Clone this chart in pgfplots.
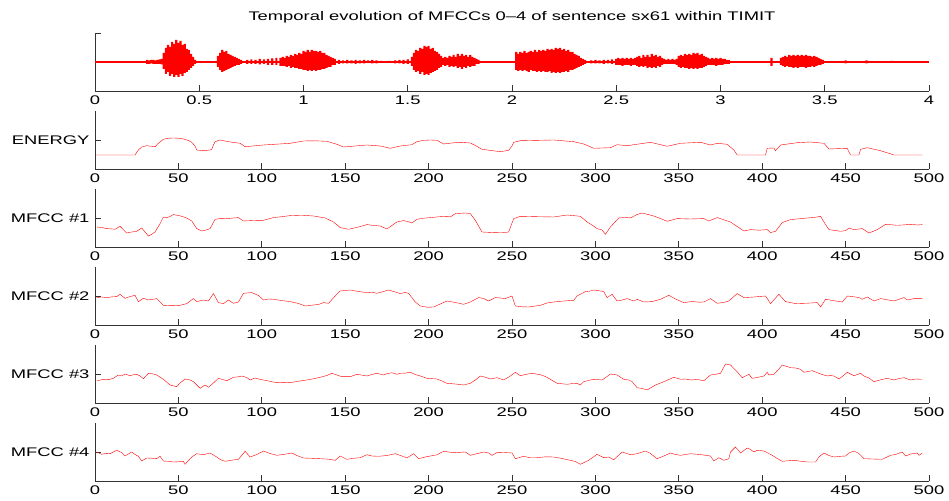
\documentclass[border=0pt]{standalone}
\usepackage{fontspec}
\setmainfont{Liberation Sans}[FakeStretch=1.47]
\usepackage{pgfplots}
\pgfplotsset{compat=1.18}
\usepackage{pgfplotstable}

\pgfplotstableread{
t up lo
0.25 2 -2
0.26 1.5 -2
0.27 2 -1.5
0.28 2 -2
0.29 1.5 -2
0.30 2 -2
0.31 2.5 -2
0.32 3 -2.5
0.33 9 -7
0.34 14 -12
0.35 17 -10
0.36 15 -14
0.37 20 -12
0.38 18 -15
0.39 22 -13
0.40 19 -15
0.41 21 -12
0.42 17 -14
0.43 18 -11
0.44 13 -10
0.45 12 -8
0.46 8 -6
0.47 5 -4
0.48 2 -2
0.59 6 -5
0.60 9 -8
0.61 12 -10
0.62 10 -9
0.63 11 -8
0.64 8 -7
0.65 7 -6
0.66 6 -5
0.67 5 -4
0.68 4 -3
0.69 3 -3
0.70 2 -2
0.73 2 -2
0.75 2.5 -2
0.77 2 -2
0.79 3 -2.5
0.81 2.5 -2
0.83 3 -3
0.85 3.5 -3
0.87 4 -3
0.89 4 -4
0.90 5 -4
0.91 4 -4
0.92 6 -5
0.93 5 -4
0.94 7 -6
0.95 6 -5
0.96 8 -6
0.97 7 -6
0.98 9 -7
0.99 8 -7
1.00 11 -8
1.01 10 -8
1.02 12 -9
1.03 10 -8
1.04 12 -9
1.05 11 -8
1.06 11 -9
1.07 10 -8
1.08 11 -8
1.09 9 -7
1.10 9 -7
1.11 7 -6
1.12 6 -5
1.13 5 -5
1.14 4 -3
1.15 3 -3
1.17 2 -2
1.19 1.5 -1.5
1.21 2 -1.5
1.23 1.5 -1.5
1.25 2 -2
1.27 1.5 -1.5
1.29 2 -1.5
1.31 1.5 -1
1.33 2 -1.5
1.35 1.5 -1.5
1.37 1 -1
1.41 1 -1
1.44 1.5 -1.5
1.46 2 -1.5
1.48 2 -2
1.50 2.5 -2
1.52 5 -4
1.53 9 -8
1.54 12 -10
1.55 11 -9
1.56 14 -12
1.57 13 -10
1.58 16 -13
1.59 15 -12
1.60 16 -13
1.61 13 -11
1.62 14 -10
1.63 11 -9
1.64 10 -8
1.65 8 -6
1.66 6 -5
1.67 4 -3
1.68 5 -4
1.69 4 -3
1.70 6 -5
1.71 5 -4
1.72 7 -5
1.73 5 -4
1.74 8 -6
1.75 6 -5
1.76 8 -7
1.77 6 -5
1.78 7 -6
1.79 5 -4
1.80 7 -5
1.81 5 -4
1.82 4 -4
1.83 3 -2
1.84 2 -2
2.02 10 -8
2.03 8 -9
2.04 10 -8
2.05 9 -9
2.06 11 -8
2.07 9 -9
2.08 10 -10
2.09 11 -8
2.10 10 -9
2.11 12 -9
2.12 10 -10
2.13 12 -9
2.14 11 -10
2.15 12 -9
2.16 11 -10
2.17 13 -10
2.18 12 -9
2.19 13 -11
2.20 12 -10
2.21 14 -11
2.22 13 -10
2.23 14 -11
2.24 12 -10
2.25 13 -10
2.26 11 -9
2.27 12 -10
2.28 10 -8
2.29 10 -8
2.30 8 -7
2.31 7 -6
2.32 6 -5
2.33 4 -4
2.34 3 -3
2.35 2 -2
2.38 1.5 -1.5
2.40 2 -1.5
2.42 1.5 -1.5
2.44 2 -2
2.46 2 -1.5
2.48 2.5 -2
2.50 3 -3
2.51 4 -3
2.52 3 -3
2.53 4 -4
2.54 3 -3
2.55 4 -3
2.56 3 -3
2.57 4 -4
2.58 3 -3
2.59 4 -3
2.60 5 -4
2.61 6 -5
2.62 4 -4
2.63 7 -5
2.64 5 -4
2.65 7 -6
2.66 5 -5
2.67 8 -6
2.68 6 -5
2.69 7 -6
2.70 5 -4
2.71 6 -5
2.72 4 -3
2.73 3 -2
2.74 2 -2
2.75 3 -2
2.76 2 -2
2.77 3 -2
2.78 2 -2
2.79 3 -3
2.80 6 -5
2.81 7 -6
2.82 6 -5
2.83 8 -6
2.84 7 -6
2.85 8 -7
2.86 7 -6
2.87 9 -7
2.88 8 -6
2.89 9 -7
2.90 7 -6
2.91 8 -6
2.92 6 -5
2.93 5 -4
2.94 4 -3
2.95 3 -3
2.96 4 -3
2.97 3 -3
2.98 4 -4
2.99 3 -3
3.00 4 -3
3.01 3 -3
3.02 3 -2
3.03 2 -2
3.04 2 -2
3.245 4 -4
3.29 4 -3
3.30 5 -4
3.31 6 -5
3.32 5 -4
3.33 7 -5
3.34 6 -5
3.35 7 -6
3.36 6 -5
3.37 7 -6
3.38 6 -5
3.39 7 -5
3.40 6 -5
3.41 7 -6
3.42 6 -5
3.43 6 -5
3.44 5 -4
3.45 6 -5
3.46 5 -4
3.47 4 -3
3.48 3 -3
3.49 2 -2
3.60 1.5 -1.5
3.70 1.5 -1.5
3.82 1 -1
}\wave

\pgfplotsset{
  panel/.style={
    scale only axis, width=834pt, height=58pt, anchor=south west,
    axis x line*=bottom, axis y line*=left,
    tick align=inside, major tick length=6pt,
    xmin=0, xmax=500, xtick={0,50,...,500},
    ymin=-29, ymax=29, ytick={0},
    axis line style={line width=0.8pt, black!80},
    every tick/.style={line width=0.8pt, black!80},
    tick label style={font=\fontsize{12.5}{14}\selectfont},
    xticklabel style={yshift=-1pt},
    yticklabel style={xshift=-2pt},
    /pgf/number format/assume math mode=true,
    cycle list={{red, line width=1.2pt}},
    no markers,
  }
}

\begin{document}
\begin{tikzpicture}
\useasboundingbox (0,0) rectangle (949pt,500pt);

% waveform
\begin{axis}[panel, at={(95pt,409pt)}, xmin=0, xmax=4,
  xtick={0,0.5,1,1.5,2,2.5,3,3.5,4},
  xticklabels={0,0.5,1,1.5,2,2.5,3,3.5,4},
  ytick={-29,29}, yticklabels={,},
  title={Temporal evolution of MFCCs 0--4 of sentence sx61 within TIMIT},
  title style={font=\fontsize{12.5}{14}\selectfont, at={(0.5,1)}, anchor=south, yshift=0pt}]
\addplot[red, line width=1.6pt] coordinates {(0,0) (4,0)};
\addplot[ybar, bar width=2.2pt, bar shift=0pt, fill=red, draw=none] table[x=t, y=up] {\wave};
\addplot[ybar, bar width=2.2pt, bar shift=0pt, fill=red, draw=none] table[x=t, y=lo] {\wave};
\end{axis}

% ENERGY
\begin{axis}[panel, at={(95pt,331pt)}, yticklabels={ENERGY}]
\addplot coordinates {(0,-15)(24,-15)(26,-10)(28,-7)(31,-5.7)(36,-6.7)(38,-3.3)(41,0.7)(44,1.8)(47,2)(50,1.8)(53,1)(56,-0.5)(58,-2.3)(60,-6)(61,-10)(65,-10.7)(69,-10)(70,-9.3)(71,-5)(72,-1.7)(75,0)(81,-2)(87,-3.3)(90,-6.7)(101,-5)(117,-3.3)(125,-1)(132,-0.8)(139,-1.3)(145,-4.3)(149,-7)(163,-5)(171,-6)(177,-8.3)(183,-6)(190,-4.7)(193,-1.7)(197,-0.3)(201,0)(205,-0.3)(209,-4)(214,-3)(219,-2.3)(225,-3)(228,-5.5)(232,-9.3)(243,-11.7)(248,-10.3)(250,-6)(251,-2.3)(255,-0.7)(275,0)(287,-1.7)(293,-4)(299,-8.3)(309,-7.7)(313,-4.7)(319,-5.7)(333,-2.3)(343,-6.3)(351,-3.3)(363,-2.3)(369,-5)(373,-3.3)(379,-4.3)(383,-10)(385,-15)(402,-15)(403,-8.3)(407,-8)(408,-10.7)(411,-5)(421,-2.7)(429,-2)(437,-3.3)(440,-9)(451,-8.3)(452,-12)(453,-15)(458,-15)(459,-9.3)(463,-7.7)(471,-10.7)(479,-15)(496,-15)};
\end{axis}

% MFCC 1
\begin{axis}[panel, at={(95pt,253pt)}, yticklabels={MFCC \#1}]
\addplot coordinates {(1,-9)(4,-9.5)(7,-10.6)(10,-10.9)(12,-11.3)(15,-8.3)(19,-15)(22,-14)(25,-13.3)(28,-10)(32,-18)(34,-16.3)(36,-14)(39,-5.6)(41,1)(43,0.3)(45,1.5)(47,3.4)(50,2.5)(52,1.7)(55,0)(58,-3)(61,-10.6)(64,-13)(67,-11.8)(69,-10.6)(72,-1.3)(76,-0.3)(79,-0.6)(83,0)(86,0.4)(89,-3)(95,-2.5)(101,-2.3)(107,0.4)(112,1.3)(117,2.4)(124,2.8)(131,2)(138,0)(143,-4)(147,-9.6)(152,-11.3)(158,-9)(163,-6.6)(167,-7.4)(171,-8)(175,-11)(178,-7.5)(181,-4)(185,-2.6)(188,-3.8)(190,-5)(193,-1.3)(197,-0.2)(201,0.4)(206,1.2)(211,1.7)(213,1.1)(216,4.4)(222,5)(225,4.4)(228,-2.3)(232,-14)(239,-14.6)(244,-14.8)(248,-14)(251,-0.6)(255,1.7)(265,1.3)(275,1)(283,3)(291,1.7)(295,-4)(298,-7)(301,-10.6)(304,-12)(306,-16.3)(309,-9)(314,0)(318,0.6)(321,0)(325,3.5)(328,5)(335,2)(339,-0.5)(343,-3.3)(349,-0.6)(357,-1)(365,-0.6)(368,-3)(373,0.4)(377,-1.8)(381,-4)(385,-8.5)(389,-13)(393,-11.6)(398,-12.2)(403,-11.6)(405,-14.6)(408,-13.3)(412,-4.6)(417,-1.6)(422,-0.8)(427,0)(431,0.5)(435,1.7)(437,-4)(440,-11.6)(447,-13.3)(450,-12.6)(452,-10)(455,-11.6)(460,-10.6)(464,-15)(469,-11.6)(474,-6.3)(481,-7.3)(485,-6.9)(489,-6.3)(493,-7)(496,-6.6)};
\end{axis}

% MFCC 2
\begin{axis}[panel, at={(95pt,175pt)}, yticklabels={MFCC \#2}]
\addplot coordinates {(1,-1.6)(4,-1)(7,-1.6)(10,-0.9)(13,-0.6)(15,1.7)(18,-2.3)(21,-0.6)(24,0.7)(26,-5.6)(29,-2.3)(32,-4)(35,-3.2)(37,-2.6)(41,-9.3)(46,-9.7)(51,-9.3)(55,-7.6)(59,-2.6)(61,-5.6)(65,-4)(68,-5)(71,2.4)(74,-6.6)(77,-7.6)(80,-4)(83,-7.3)(86,-6)(89,2.7)(94,3.4)(98,0.5)(101,-4)(104,-3)(107,-3.3)(112,-4.6)(117,-5.6)(122,-7.5)(126,-10)(131,-9)(134,-8.5)(137,-6.6)(140,-7.3)(144,0)(147,5)(153,6)(158,4.5)(163,3.4)(166,3.8)(169,2.7)(173,4.5)(176,6)(180,4)(183,2.4)(186,3.5)(188,2.7)(192,-6)(195,-10)(199,-11.2)(203,-11)(207,-8)(211,-5)(216,-6.5)(221,-8.3)(225,-6)(230,-1.6)(233,-2.5)(236,-5)(240,-1.6)(243,-2)(246,-2.6)(250,0)(252,-10)(256,-10.8)(260,-11)(267,-9.3)(271,-7)(275,-6)(281,-5)(287,-4.3)(289,0)(294,4.4)(297,5)(299,6)(302,5.3)(305,4.4)(307,-1.6)(310,1.7)(313,-5)(316,-4)(319,-2.6)(323,-5)(325,-3.3)(329,-6)(334,-5.6)(339,-3.3)(344,0.7)(348,-3)(353,-6.6)(358,-5.5)(362,-6.2)(365,-6)(369,-2.6)(373,-7.3)(377,-6.4)(380,-5)(385,2.4)(389,-1.6)(395,-1)(402,0)(405,-7.6)(410,1.7)(414,-5.6)(420,-7.6)(427,-7.2)(433,-6.6)(435,-11)(438,-3.3)(443,-4.7)(448,-6)(451,0)(455,-0.8)(458,-1.6)(460,-3.3)(463,-1)(467,-5)(471,-2.6)(475,-3.8)(479,-5)(485,-1.6)(487,-4)(491,-2.6)(496,-2.6)};
\end{axis}

% MFCC 3
\begin{axis}[panel, at={(95pt,97pt)}, yticklabels={MFCC \#3}]
\addplot coordinates {(1,-7)(5,-5.3)(8,-5.7)(11,-4.3)(14,-1)(16,-2)(18,0)(21,-1.7)(23,-0.8)(25,-0.3)(27,-2)(29,-4.7)(32,0.7)(35,0)(37,-1)(41,-5.3)(45,-11)(49,-12.7)(51,-9)(54,-5)(57,-6)(59,-7.7)(61,-11)(63,-14.3)(66,-11)(68,-13.3)(71,-9)(74,-4.3)(79,-6.7)(83,-3.3)(86,-2.8)(88,-2)(91,-3.5)(93,-6)(96,-4)(98,-5)(103,-6.7)(109,-8.7)(113,-8.3)(117,-8.7)(122,-7.2)(127,-6)(131,-4.8)(135,-3.3)(139,-1.5)(142,0.7)(145,-1)(148,-2.7)(153,-2.7)(157,-0.3)(160,-1.1)(163,-2)(166,-0.5)(169,0.7)(173,-1)(175,0.3)(178,1.3)(181,-0.3)(183,0.7)(186,0.9)(189,1.7)(192,-0.5)(195,-2)(199,-4.3)(205,-5)(208,-7)(211,-9.3)(216,-10)(221,-11)(225,-9.3)(228,-6)(231,-2)(234,-3.2)(237,-5)(241,-3.7)(245,-6)(249,-2)(252,1.7)(255,-1.7)(258,-0.5)(262,0.7)(267,-0.7)(270,-2.5)(273,-5.3)(277,-9.3)(283,-10.3)(286,-9.6)(289,-9.3)(291,-11)(293,-7.7)(296,-6.4)(299,-5.3)(304,-6)(307,-2.5)(309,0)(313,-1)(317,-5.3)(320,-6)(322,-7.7)(325,-13.7)(328,-14.5)(331,-16)(336,-11)(341,-7.7)(344,-5.5)(347,-3.3)(351,-5.3)(354,-5)(357,-6)(361,-5.5)(365,-6.7)(369,-1)(372,-0.3)(375,0.7)(378,10)(381,9)(383,5.5)(385,2.3)(388,-3.7)(392,-0.3)(394,-4.3)(397,-3.5)(401,-2)(403,1.7)(404,-1)(407,-0.3)(410,5)(412,9)(417,6.3)(420,6)(423,4.7)(425,1.7)(430,3.3)(435,0)(439,-2)(441,-1.5)(443,-2)(446,-5)(448,-2.5)(451,1.7)(455,-1.7)(459,0.7)(461,-2)(464,-4)(467,-7.7)(471,-5.8)(475,-4.3)(479,-6)(482,-4.5)(485,-3.7)(489,-6)(492,-5)(496,-5.3)};
\end{axis}

% MFCC 4
\begin{axis}[panel, at={(95pt,19pt)}, yticklabels={MFCC \#4}]
\addplot coordinates {(1,0)(4,-2.3)(7,-1.3)(9,-1.7)(13,1.7)(16,-0.5)(18,-4)(22,0)(24,-2.5)(26,-4.3)(28,-9)(31,-6)(34,-6.2)(37,-6.7)(39,-4.3)(41,-9)(44,-9.3)(47,-10)(50,-9.8)(53,-9.3)(54,-12.3)(58,-5)(61,-1.7)(65,-2.7)(69,-1)(73,-5)(75,-7.5)(78,-9.3)(82,-8.2)(86,-7.3)(90,0.7)(93,-5)(97,-2.5)(101,1)(105,-1.5)(109,-3.3)(114,-2.2)(118,-1)(121,-3.5)(125,-6)(130,-6.3)(135,-6.7)(140,-7.2)(144,-8.3)(147,-4)(151,-7.3)(155,-6.3)(159,-5.7)(163,-2.7)(166,-4)(170,-4.3)(175,-3.5)(180,-1.7)(184,-4)(187,-6)(191,-1.7)(194,-6.7)(198,-5)(201,-4)(205,-2.8)(209,0.7)(212,0)(215,-0.7)(219,-0.3)(222,0)(225,-3.3)(229,-1.7)(233,0)(236,-1)(238,-3.3)(241,-0.7)(245,-0.5)(250,-1)(252,-6.7)(257,-4.3)(261,-5.8)(265,-5.7)(270,-4.8)(275,-5)(280,-6.5)(285,-8.3)(288,-9.5)(291,-12.3)(296,-8.3)(301,-2.3)(305,-5.7)(308,-5)(311,-7.7)(316,0)(321,-2.7)(325,-1.7)(330,1)(333,-1.5)(337,-6.7)(341,-4)(345,-1)(348,-2.5)(351,-3.3)(357,-1.7)(363,-2.6)(369,-4)(371,-9)(374,-5.7)(377,-8.3)(380,-6.7)(381,0)(384,5)(387,-1)(391,4)(393,2.5)(395,0)(397,1.7)(401,1)(406,-3.3)(409,-6.5)(412,-9.3)(419,-8.3)(423,-9.2)(427,-10)(432,-10)(434,-5)(437,-1)(440,-3.5)(443,-5)(447,-4.3)(450,-4)(452,-1)(455,1)(458,-1.5)(461,-6.7)(466,-7)(472,-7.3)(477,-3.3)(480,-2.5)(484,0)(486,-4)(489,-2)(493,-1)(494,-3.3)(496,-1)};
\end{axis}
\end{tikzpicture}
\end{document}
